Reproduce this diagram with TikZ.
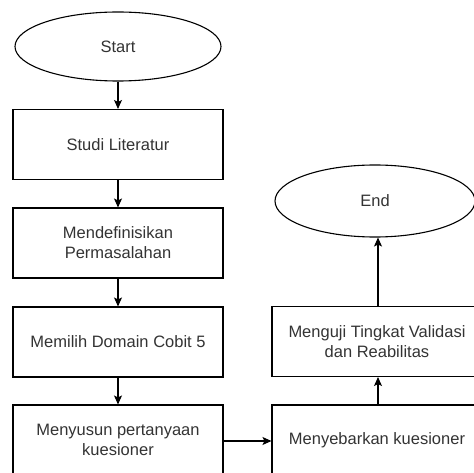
\documentclass[tikz,border=0pt]{standalone}
\usepackage{fontspec}
\setmainfont{Liberation Sans}
\usetikzlibrary{shapes.geometric,arrows.meta}
\definecolor{txt}{HTML}{333333}
\begin{document}
\begin{tikzpicture}[x=1pt,y=-1pt,
  base/.style={draw=black,line width=1.1pt,text=txt,font=\fontsize{16.5}{20}\selectfont,align=center,inner sep=0pt},
  stepbox/.style={base,rectangle,minimum width=210pt,minimum height=70pt},
  term/.style={base,ellipse,minimum width=206pt,minimum height=69pt},
  arr/.style={line width=1.1pt,-{Stealth[length=9pt,width=8pt,inset=2pt]}}]
\useasboundingbox (0,0) rectangle (474,473);
\clip (0,0) rectangle (474,473);
\node[term] (start) at (118,46.5) {Start};
\node[stepbox] (studi) at (118,144.5) {Studi Literatur};
\node[stepbox] (def) at (118,243) {Mendefinisikan\\Permasalahan};
\node[stepbox] (pilih) at (118,342) {Memilih Domain Cobit 5};
\node[stepbox] (susun) at (118,440) {Menyusun pertanyaan\\kuesioner};
\node[stepbox] (sebar) at (377,440) {Menyebarkan kuesioner};
\node[stepbox] (uji) at (377,341.5) {Menguji Tingkat Validasi\\dan Reabilitas};
\node[term,minimum width=200pt,minimum height=72pt] (end) at (375,201) {End};
\draw[arr] (start) -- (studi);
\draw[arr] (studi) -- (def);
\draw[arr] (def) -- (pilih);
\draw[arr] (pilih) -- (susun);
\draw[arr] (susun.east |- 0,441) -- (sebar.west |- 0,441);
\draw[arr] (sebar.north -| 378,0) -- (uji.south -| 378,0);
\draw[arr] (uji.north -| 378,0) -- (end.south -| 378,0);
\end{tikzpicture}
\end{document}
